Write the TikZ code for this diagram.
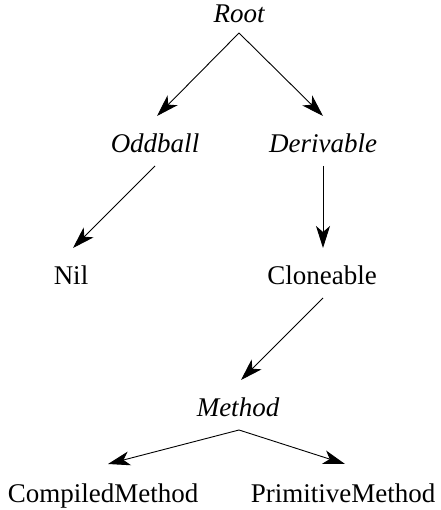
\documentclass[tikz,border=0pt]{standalone}
\usepackage{fontspec}
\setmainfont{Liberation Serif}
\usetikzlibrary{arrows.meta}
\begin{document}
\begin{tikzpicture}[x=1pt,y=1pt,
  cls/.style={inner sep=0pt,anchor=base,font=\fontsize{27}{31}\selectfont},
  abstract/.style={cls,font=\fontsize{27}{31}\selectfont\itshape},
  inherit/.style={line width=0.9pt,-{Stealth[length=22pt,width=14pt,inset=6pt]}}]
  \useasboundingbox (0,0) rectangle (440,510);
  % class names
  \node[abstract] (root) at (239,487) {Root};
  \node[abstract] (odd)  at (155,357) {Oddball};
  \node[abstract] (der)  at (323,357) {Derivable};
  \node[cls]      (nil)  at (71,225)  {Nil};
  \node[cls]      (clo)  at (322,225) {Cloneable};
  \node[abstract] (meth) at (238,93)  {Method};
  \node[cls]      (comp) at (103,8)   {CompiledMethod};
  \node[cls]      (prim) at (343,8)   {PrimitiveMethod};
  % subclass links
  \draw[inherit] ([yshift=-10pt]root.base) -- ([xshift=2pt,yshift=37pt]odd.base);
  \draw[inherit] ([yshift=-10pt]root.base) -- ([yshift=37pt]der.base);
  \draw[inherit] ([yshift=-13pt]odd.base) -- ([xshift=2pt,yshift=37pt]nil.base);
  \draw[inherit] ([yshift=-13pt]der.base) -- ([xshift=1pt,yshift=37pt]clo.base);
  \draw[inherit] ([xshift=1pt,yshift=-13pt]clo.base) -- ([xshift=3pt,yshift=37pt]meth.base);
  \draw[inherit] ([xshift=1pt,yshift=-13pt]meth.base) -- ([xshift=5pt,yshift=38pt]comp.base);
  \draw[inherit] ([xshift=1pt,yshift=-13pt]meth.base) -- ([xshift=2pt,yshift=38pt]prim.base);
\end{tikzpicture}
\end{document}
